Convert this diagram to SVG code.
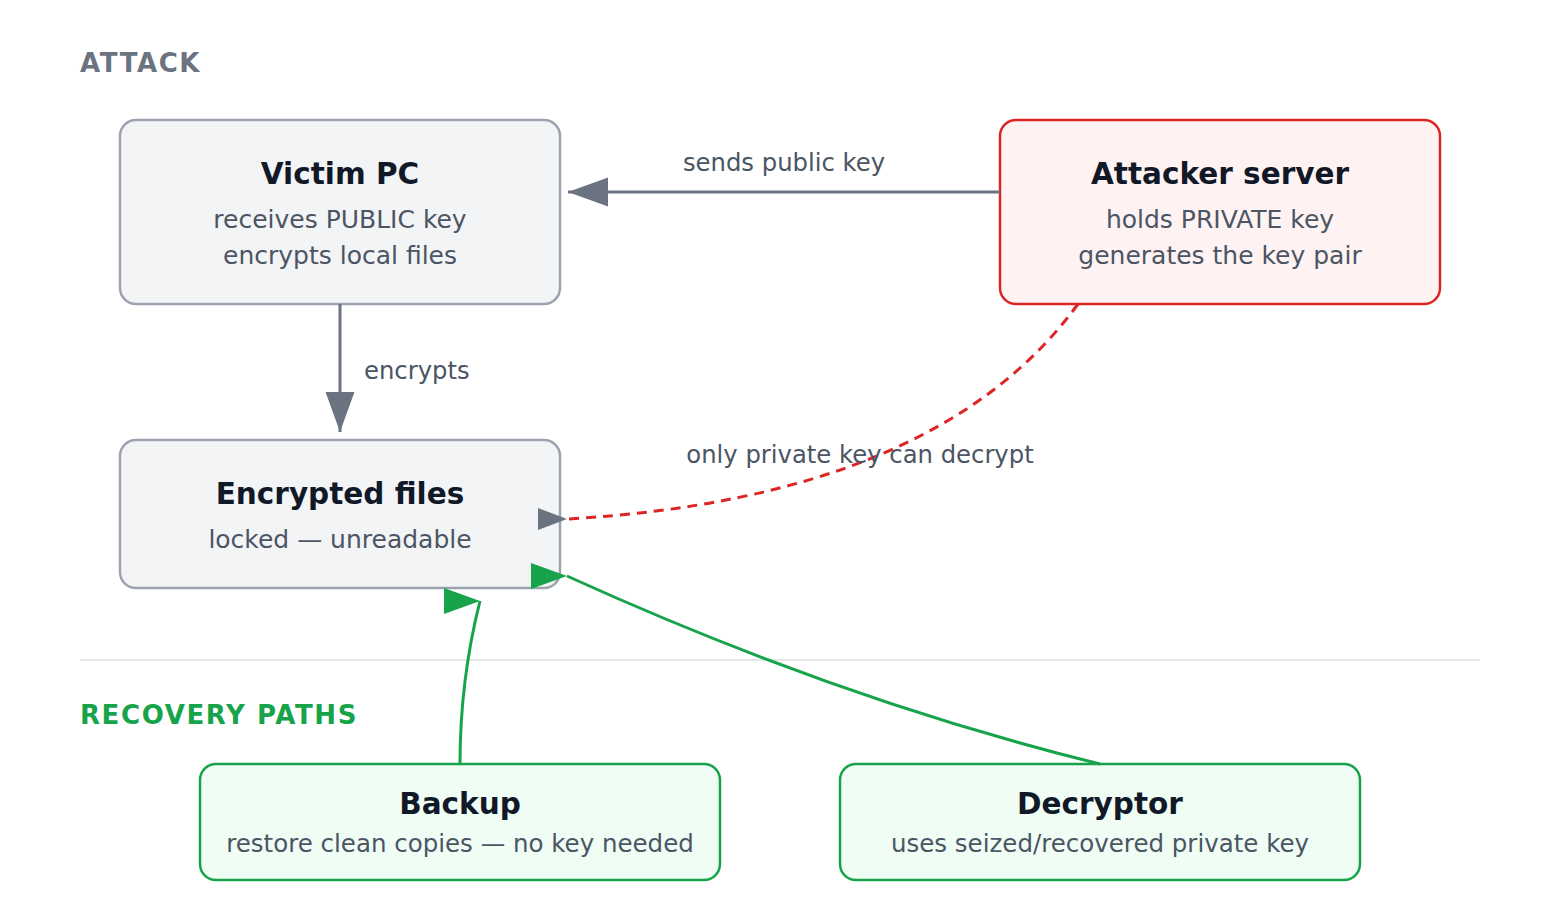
<svg xmlns="http://www.w3.org/2000/svg" width="1560" height="920" viewBox="0 0 1560 920">
<defs>
<style>
.sec{font-family:"DejaVu Sans",sans-serif;font-size:26px;font-weight:bold;letter-spacing:1.6px}
.title{font-family:"DejaVu Sans",sans-serif;font-size:29.5px;font-weight:bold;fill:#111827;text-anchor:middle}
.body{font-family:"DejaVu Sans",sans-serif;font-size:25px;fill:#4b5563;text-anchor:middle}
.body2{font-family:"DejaVu Sans",sans-serif;font-size:24.5px;fill:#4b5563;text-anchor:middle}
.lbl{font-family:"DejaVu Sans",sans-serif;font-size:24.3px;fill:#4b5563}
.neutral{fill:#f3f4f6;stroke:#9ca3af;stroke-width:2.5}
.attacker{fill:#fef2f2;stroke:#dc2626;stroke-width:2.5}
.good{fill:#f0fdf4;stroke:#16a34a;stroke-width:2.5}
.edge{fill:none;stroke-width:3}
</style>
<marker id="arrGray" markerUnits="userSpaceOnUse" markerWidth="40" markerHeight="30" viewBox="0 0 36 26" refX="36" refY="13" orient="auto">
<path d="M0,0 L36,13 L0,26 Z" fill="#6b7280"/>
</marker>
<marker id="arrGraySmall" markerUnits="userSpaceOnUse" markerWidth="29" markerHeight="22" viewBox="0 0 29 22" refX="29" refY="11" orient="0">
<path d="M0,0 L29,11 L0,22 Z" fill="#6b7280"/>
</marker>
<marker id="arrGreen" markerUnits="userSpaceOnUse" markerWidth="36" markerHeight="26" viewBox="0 0 36 26" refX="36" refY="13" orient="0">
<path d="M0,0 L36,13 L0,26 Z" fill="#16a34a"/>
</marker>
</defs>
<rect width="1560" height="920" fill="#ffffff"/>

<text class="sec" x="80" y="72" fill="#6b7280">ATTACK</text>
<line x1="80" y1="660" x2="1480" y2="660" stroke="#e5e7eb" stroke-width="2"/>
<text class="sec" x="80" y="724" fill="#16a34a">RECOVERY PATHS</text>

<g id="victim">
<rect class="neutral" x="120" y="120" width="440" height="184" rx="16"/>
<text class="title" x="340" y="184">Victim PC</text>
<text class="body" x="340" y="228">receives PUBLIC key</text>
<text class="body" x="340" y="264">encrypts local files</text>
</g>
<g id="attacker">
<rect class="attacker" x="1000" y="120" width="440" height="184" rx="16"/>
<text class="title" x="1220" y="184">Attacker server</text>
<text class="body" x="1220" y="228">holds PRIVATE key</text>
<text class="body" x="1220" y="264">generates the key pair</text>
</g>
<g id="encrypted">
<rect class="neutral" x="120" y="440" width="440" height="148" rx="16"/>
<text class="title" x="340" y="504">Encrypted files</text>
<text class="body" x="340" y="548">locked — unreadable</text>
</g>
<g id="backup">
<rect class="good" x="200" y="764" width="520" height="116" rx="16"/>
<text class="title" x="460" y="814">Backup</text>
<text class="body2" x="460" y="852">restore clean copies — no key needed</text>
</g>
<g id="decryptor">
<rect class="good" x="840" y="764" width="520" height="116" rx="16"/>
<text class="title" x="1100" y="814">Decryptor</text>
<text class="body2" x="1100" y="852">uses seized/recovered private key</text>
</g>

<g id="connectors">
<path class="edge" d="M1000,192 L568,192" stroke="#6b7280" marker-end="url(#arrGray)"/>
<path class="edge" d="M340,304 L340,432" stroke="#6b7280" marker-end="url(#arrGray)"/>
<path class="edge" d="M1078,304 Q937,498 567,519" stroke="#dc2626" stroke-width="2.5" stroke-dasharray="10,7" marker-end="url(#arrGraySmall)"/>
<path class="edge" d="M460,764 Q460,680 480,601" stroke="#16a34a" marker-end="url(#arrGreen)"/>
<path class="edge" d="M1100,764 Q840,700 567,576" stroke="#16a34a" marker-end="url(#arrGreen)"/>
<text class="lbl" x="784" y="171" text-anchor="middle">sends public key</text>
<text class="lbl" x="364" y="379">encrypts</text>
<text class="lbl" x="860" y="463" text-anchor="middle" fill="#b91c1c">only private key can decrypt</text>
</g>
</svg>
